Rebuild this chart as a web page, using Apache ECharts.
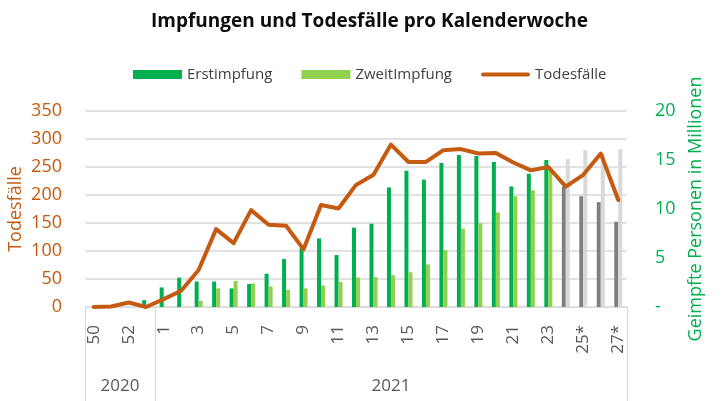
<!DOCTYPE html>
<html>
<head>
<meta charset="utf-8">
<script src="https://cdn.jsdelivr.net/npm/echarts@6/dist/echarts.min.js"></script>
<style>
  html, body { margin: 0; padding: 0; background: #fff; }
  #chart { width: 721px; height: 401px; }
</style>
</head>
<body>
<div id="chart"></div>
<script>
// Kalenderwochen 50/2020 .. 27/2021, * = Prognose
const weeks = ['50', '51', '52', '53', '1', '2', '3', '4', '5', '6', '7', '8', '9', '10', '11', '12',
  '13', '14', '15', '16', '17', '18', '19', '20', '21', '22', '23', '24', '25*', '26', '27*']
const years = ['2020', '2021']
const weeksPerYear = [4, 27]
const forecastFrom = 27 // ab KW 24 grau

const todesfaelle = [0, 1, 8, 0, 14, 29, 66, 139, 114, 173, 147, 145, 103, 182, 176, 218,
  236, 290, 259, 259, 280, 282, 274, 275, 258, 244, 250, 215, 236, 274, 191]
const erstimpfung = [0, 0, 0, 0.7, 2.0, 3.0, 2.6, 2.6, 1.9, 2.35, 3.4, 4.9, 6.0, 7.0, 5.3, 8.1,
  8.5, 12.2, 13.9, 13.0, 14.7, 15.5, 15.4, 14.8, 12.3, 13.6, 15.0, 12.3, 11.3, 10.7, 8.7]
const zweitimpfung = [0, 0, 0, 0, 0, 0, 0.65, 1.9, 2.65, 2.4, 2.1, 1.75, 1.9, 2.2, 2.55, 3.0,
  3.05, 3.25, 3.55, 4.35, 5.8, 8.0, 8.55, 9.65, 11.3, 11.9, 14.2, 15.1, 16.0, 15.7, 16.1]

const leftTicks = { min: 0, max: 350, interval: 50 }
const rightTicks = { min: 0, max: 20, interval: 5 }

const FONT = 'Open Sans'
const ORANGE = '#C55A11'
const GREEN = '#00B050'
const LIGHT_GREEN = '#92D050'
const GRID_GREY = '#D9D9D9'

function withForecast(values, color) {
  return values.map((v, i) => (i >= forecastFrom ? { value: v, itemStyle: { color } } : v))
}

// year boundaries + label centers on a 0..n value axis
const yearBounds = [0]
weeksPerYear.forEach(n => yearBounds.push(yearBounds[yearBounds.length - 1] + n))
const yearCenters = years.map((y, i) => (yearBounds[i] + yearBounds[i + 1]) / 2)

const chart = echarts.init(document.getElementById('chart'), null, { renderer: 'canvas' })

chart.setOption({
  animation: false,
  textStyle: { fontFamily: FONT },
  title: {
    text: 'Impfungen und Todesfälle pro Kalenderwoche',
    left: 146,
    top: 7,
    textStyle: { fontFamily: FONT, fontSize: 19, fontWeight: 'bold', color: '#0D0D0D' },
  },
  legend: {
    left: 128,
    top: 62,
    itemWidth: 49,
    itemHeight: 9,
    itemGap: 29,
    textStyle: { fontFamily: FONT, fontSize: 15, color: '#404040' },
    data: [
      { name: 'Erstimpfung', icon: 'rect' },
      { name: 'ZweitImpfung', icon: 'rect' },
      { name: 'Todesfälle', icon: 'path://M2,0 L47,0 A2,2 0 0 1 47,4 L2,4 A2,2 0 0 1 2,0 Z' },
    ],
  },
  grid: { left: 85, right: 94, top: 111, bottom: 94, outerBoundsMode: 'none' },
  xAxis: [
    {
      type: 'category',
      data: weeks,
      axisLine: { lineStyle: { color: GRID_GREY, width: 1 } },
      axisTick: { show: false },
      axisLabel: {
        rotate: 90,
        interval: 1,
        margin: 18,
        color: '#595959',
        fontSize: 17,
        fontFamily: FONT,
      },
    },
    {
      type: 'value',
      position: 'bottom',
      min: 0,
      max: weeks.length,
      axisLine: { show: false },
      splitLine: { show: false },
      axisTick: {
        show: true,
        customValues: yearBounds,
        length: 94,
        lineStyle: { color: GRID_GREY, width: 1 },
      },
      axisLabel: {
        customValues: yearCenters,
        margin: 71,
        color: '#595959',
        fontSize: 17,
        fontFamily: FONT,
        formatter: v => years[yearCenters.indexOf(v)] || '',
      },
    },
  ],
  yAxis: [
    {
      type: 'value',
      ...leftTicks,
      name: 'Todesfälle',
      nameLocation: 'middle',
      nameRotate: 90,
      nameGap: 60,
      nameMoveOverlap: false,
      nameTextStyle: { color: ORANGE, fontSize: 18, fontFamily: FONT },
      axisLine: { show: false },
      axisTick: { show: false },
      axisLabel: { color: ORANGE, fontSize: 18, margin: 23, fontFamily: FONT },
      splitLine: { lineStyle: { color: GRID_GREY, width: 1.5 } },
    },
    {
      type: 'value',
      ...rightTicks,
      position: 'right',
      name: 'Geimpfte Personen in Millionen',
      nameLocation: 'middle',
      nameRotate: 90,
      nameGap: 55,
      nameTextStyle: { color: GREEN, fontSize: 18, fontFamily: FONT },
      axisLine: { show: false },
      axisTick: { show: false },
      splitLine: { show: false },
      axisLabel: {
        color: GREEN,
        fontSize: 18,
        margin: 28,
        fontFamily: FONT,
        formatter: v => (v === 0 ? '-' : String(v)),
      },
    },
  ],
  series: [
    {
      name: 'Erstimpfung',
      type: 'bar',
      yAxisIndex: 1,
      barWidth: 4,
      barGap: '0%',
      itemStyle: { color: GREEN },
      data: withForecast(erstimpfung, '#7F7F7F'),
    },
    {
      name: 'ZweitImpfung',
      type: 'bar',
      yAxisIndex: 1,
      barWidth: 4,
      barGap: '0%',
      itemStyle: { color: LIGHT_GREEN },
      data: withForecast(zweitimpfung, GRID_GREY),
    },
    {
      name: 'Todesfälle',
      type: 'line',
      yAxisIndex: 0,
      symbol: 'none',
      z: 5,
      lineStyle: { color: ORANGE, width: 4, cap: 'round', join: 'round' },
      itemStyle: { color: ORANGE },
      data: todesfaelle,
    },
  ],
})
</script>
</body>
</html>
